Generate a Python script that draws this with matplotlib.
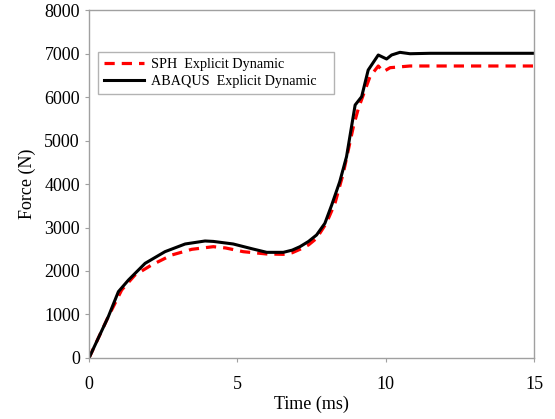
import matplotlib.pyplot as plt

plt.rcParams['font.family'] = ['Liberation Serif', 'DejaVu Serif']

# ABAQUS explicit dynamic
t_abaqus = [0, 0.65, 0.99, 1.33, 1.89, 2.56, 3.24, 3.91, 4.19, 4.86, 5.5, 5.99, 6.55, 6.85, 7.11,
            7.4, 7.67, 7.95, 8.18, 8.45, 8.68, 8.97, 9.19, 9.41, 9.75, 10.03, 10.2, 10.48,
            10.82, 11.5, 13, 15]
f_abaqus = [0, 950, 1525, 1793, 2176, 2444, 2621, 2690, 2680, 2621, 2510, 2429, 2429, 2480, 2559,
            2680, 2828, 3096, 3517, 4050, 4628, 5816, 6008, 6620, 6966, 6874, 6966, 7027,
            6995, 7005, 7005, 7005]

# SPH explicit dynamic
t_sph = [0, 0.65, 1.1, 1.55, 2.11, 2.79, 3.46, 4.19, 4.6, 5.2, 5.99, 6.55, 6.85, 7.11, 7.4,
         7.67, 8.0, 8.29, 8.57, 8.91, 9.08, 9.47, 9.75, 9.92, 10.15, 10.82, 12, 15]
f_sph = [0, 950, 1563, 1908, 2138, 2368, 2498, 2559, 2530, 2444, 2391, 2383, 2420, 2498, 2600,
         2751, 3100, 3555, 4245, 5318, 5740, 6467, 6713, 6582, 6674, 6713, 6713, 6713]

fig = plt.figure(figsize=(5.55, 4.19), dpi=100)
ax = fig.add_axes([0.1604, 0.1456, 0.8018, 0.8305])

ax.plot(t_sph, f_sph, color='#ff0000', linewidth=2.3, dashes=(3.2, 2.2), label='SPH  Explicit Dynamic')
ax.plot(t_abaqus, f_abaqus, color='black', linewidth=2.2, label='ABAQUS  Explicit Dynamic')

ax.set_xlim(0, 15)
ax.set_ylim(0, 8000)
ax.set_xticks([0, 5, 10, 15])
ax.set_yticks(range(0, 8001, 1000))
ax.tick_params(labelsize=13, color='#a0a0a0', length=3, width=0.8)
ax.tick_params(axis='x', pad=10)
for s in ax.spines.values():
    s.set_color('#a0a0a0')
    s.set_linewidth(1.0)

ax.set_xlabel('Time (ms)', fontsize=13, labelpad=2)
ax.set_ylabel('Force (N)', fontsize=13, labelpad=6)

leg = ax.legend(loc='upper left', bbox_to_anchor=(0.02, 0.88), fontsize=10.2, frameon=True,
                fancybox=False, edgecolor='#a0a0a0', handlelength=2.8, borderpad=0.45,
                labelspacing=0.25, borderaxespad=0, handletextpad=0.5)
leg.get_frame().set_linewidth(1.0)
# a bit of extra room on the right of the legend box, as in the original
for txt in leg.get_texts():
    txt.set_text(txt.get_text() + '   ')

fig.savefig('out.png', dpi=100)
